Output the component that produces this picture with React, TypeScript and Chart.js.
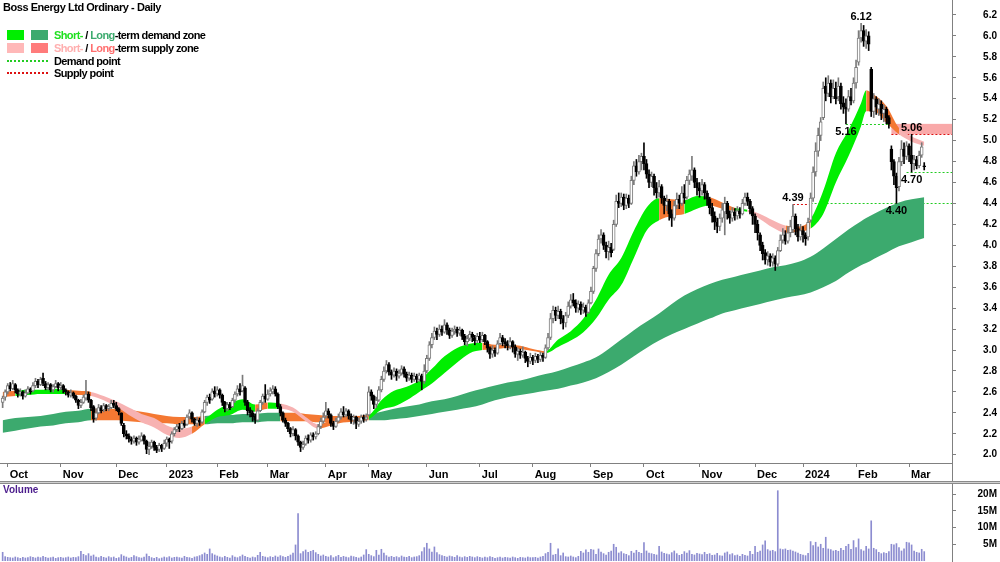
import React, { useEffect, useRef } from 'react';
import { Chart, registerables } from 'chart.js';

Chart.register(...registerables);

const FONT = '"Liberation Sans", Arial, Helvetica, sans-serif';

const chartTitle = 'Boss Energy Ltd Ordinary - Daily';

// first trading session of each month (index into the daily arrays) and its label
const monthTickIdx = [2, 23, 45, 65, 85, 105, 128, 145, 168, 189, 210, 233, 254, 276, 298, 317, 338, 359];
const monthTickLabels = ['Oct', 'Nov', 'Dec', '2023', 'Feb', 'Mar', 'Apr', 'May', 'Jun', 'Jul', 'Aug', 'Sep', 'Oct', 'Nov', 'Dec', '2024', 'Feb', 'Mar'];

const priceTicks = [2.0, 2.2, 2.4, 2.6, 2.8, 3.0, 3.2, 3.4, 3.6, 3.8, 4.0, 4.2, 4.4, 4.6, 4.8, 5.0, 5.2, 5.4, 5.6, 5.8, 6.0, 6.2];
const volumeTicks = [5, 10, 15, 20];

// daily prices (A$), 29 Sep 2022 .. 11 Mar 2024
const opens = [
  2.50, 2.55,
  2.60, 2.66, 2.63, 2.67, 2.62, 2.58, 2.60, 2.56, 2.59, 2.63, 2.61, 2.66, 2.70, 2.67, 2.73, 2.68, 2.64, 2.67, 2.62, 2.65, 2.68,
  2.64, 2.66, 2.62, 2.60, 2.57, 2.59, 2.56, 2.52, 2.47, 2.50, 2.54, 2.58, 2.52, 2.46, 2.35, 2.40, 2.45, 2.43, 2.47, 2.44, 2.45, 2.49,
  2.47, 2.44, 2.40, 2.28, 2.20, 2.18, 2.15, 2.13, 2.16, 2.12, 2.14, 2.18, 2.13, 2.05, 2.08, 2.12, 2.07, 2.05, 2.09, 2.06,
  2.11, 2.15, 2.13, 2.20, 2.24, 2.27, 2.25, 2.30, 2.29, 2.36, 2.40, 2.34, 2.30, 2.33, 2.31, 2.41, 2.50, 2.55, 2.53, 2.61,
  2.58, 2.62, 2.57, 2.50, 2.44, 2.48, 2.46, 2.52, 2.58, 2.63, 2.61, 2.64, 2.50, 2.43, 2.40, 2.37, 2.33, 2.42, 2.50, 2.56,
  2.53, 2.58, 2.60, 2.63, 2.58, 2.46, 2.40, 2.33, 2.30, 2.25, 2.20, 2.24, 2.18, 2.12, 2.07, 2.10, 2.16, 2.14, 2.19, 2.17, 2.20, 2.27, 2.32,
  2.37, 2.42, 2.38, 2.30, 2.27, 2.32, 2.36, 2.41, 2.38, 2.42, 2.37, 2.33, 2.36, 2.29, 2.32, 2.36, 2.34,
  2.38, 2.60, 2.56, 2.48, 2.52, 2.62, 2.72, 2.80, 2.86, 2.79, 2.76, 2.80, 2.75, 2.78, 2.82, 2.77, 2.73, 2.76, 2.72, 2.75, 2.72, 2.75, 2.70,
  2.80, 2.92, 3.05, 3.12, 3.18, 3.15, 3.20, 3.17, 3.24, 3.19, 3.14, 3.18, 3.20, 3.16, 3.19, 3.13, 3.08, 3.11, 3.15, 3.12, 3.09,
  3.13, 3.10, 3.14, 3.08, 3.02, 2.96, 3.00, 2.97, 3.06, 3.12, 3.08, 3.06, 3.04, 3.08, 3.03, 2.96, 2.99, 2.95, 2.98, 2.92, 2.89,
  2.93, 2.90, 2.94, 2.91, 2.95, 2.93, 3.02, 3.12, 3.30, 3.38, 3.33, 3.37, 3.30, 3.26, 3.33, 3.42, 3.48, 3.45, 3.40, 3.44, 3.38, 3.41, 3.36,
  3.45, 3.56, 3.78, 3.92, 4.06, 4.10, 4.00, 3.94, 3.98, 3.96, 4.20, 4.42, 4.40, 4.46, 4.38, 4.45, 4.40, 4.62, 4.76, 4.70, 4.80,
  4.85, 4.78, 4.68, 4.60, 4.66, 4.55, 4.50, 4.56, 4.45, 4.38, 4.42, 4.30, 4.26, 4.38, 4.44, 4.40, 4.50, 4.46, 4.62, 4.66, 4.72, 4.60,
  4.55, 4.52, 4.58, 4.50, 4.44, 4.36, 4.28, 4.22, 4.18, 4.26, 4.32, 4.40, 4.30, 4.26, 4.32, 4.28, 4.33, 4.30, 4.40, 4.46, 4.42, 4.35,
  4.28, 4.20, 4.10, 4.00, 3.93, 3.86, 3.90, 3.84, 3.88, 3.82, 3.95, 4.05, 4.10, 4.04, 4.12, 4.15, 4.28, 4.16, 4.08,
  4.14, 4.10, 4.08, 4.24, 4.45, 4.70, 4.90, 5.05, 5.22, 5.52, 5.45, 5.55, 5.42, 5.50, 5.42, 5.52, 5.36, 5.32, 5.30, 5.42, 5.38,
  5.55, 5.75, 5.98, 6.05, 5.95, 6.00, 5.68, 5.28, 5.40, 5.30, 5.35, 5.26, 5.30, 5.22, 4.92, 4.80, 4.66, 4.56, 4.80, 4.92, 4.85,
  4.95, 4.86, 4.78, 4.82, 4.76, 4.86, 4.76,
];
const highs = [
  2.56, 2.62,
  2.68, 2.69, 2.71, 2.68, 2.63, 2.63, 2.61, 2.62, 2.65, 2.64, 2.69, 2.73, 2.72, 2.74, 2.78, 2.70, 2.69, 2.68, 2.67, 2.71, 2.69,
  2.69, 2.67, 2.63, 2.61, 2.62, 2.60, 2.57, 2.53, 2.53, 2.57, 2.71, 2.60, 2.53, 2.47, 2.44, 2.48, 2.47, 2.49, 2.48, 2.48, 2.52, 2.52,
  2.50, 2.45, 2.40, 2.30, 2.23, 2.20, 2.17, 2.18, 2.17, 2.18, 2.21, 2.19, 2.14, 2.12, 2.14, 2.13, 2.09, 2.11, 2.10, 2.14,
  2.17, 2.16, 2.22, 2.26, 2.29, 2.30, 2.32, 2.33, 2.38, 2.43, 2.41, 2.35, 2.36, 2.35, 2.43, 2.52, 2.57, 2.58, 2.63, 2.65,
  2.65, 2.63, 2.58, 2.51, 2.50, 2.50, 2.54, 2.60, 2.66, 2.68, 2.76, 2.65, 2.52, 2.45, 2.42, 2.39, 2.44, 2.52, 2.58, 2.67,
  2.62, 2.64, 2.66, 2.65, 2.59, 2.48, 2.41, 2.35, 2.31, 2.26, 2.27, 2.25, 2.19, 2.13, 2.13, 2.18, 2.19, 2.21, 2.21, 2.22, 2.29, 2.35, 2.40,
  2.50, 2.44, 2.39, 2.32, 2.35, 2.39, 2.44, 2.46, 2.44, 2.43, 2.39, 2.38, 2.37, 2.35, 2.38, 2.38, 2.39,
  2.65, 2.62, 2.57, 2.55, 2.65, 2.75, 2.84, 2.90, 2.88, 2.81, 2.83, 2.82, 2.81, 2.85, 2.84, 2.79, 2.79, 2.78, 2.78, 2.77, 2.78, 2.77, 2.86,
  2.95, 3.08, 3.16, 3.22, 3.21, 3.24, 3.23, 3.29, 3.26, 3.21, 3.21, 3.23, 3.22, 3.22, 3.20, 3.15, 3.14, 3.18, 3.17, 3.14, 3.16,
  3.17, 3.17, 3.15, 3.09, 3.03, 3.04, 3.02, 3.09, 3.16, 3.14, 3.11, 3.09, 3.12, 3.09, 3.05, 3.02, 3.01, 3.03, 2.99, 2.94, 2.97,
  2.95, 2.97, 2.96, 2.98, 2.97, 3.05, 3.16, 3.35, 3.42, 3.41, 3.42, 3.39, 3.33, 3.36, 3.46, 3.53, 3.54, 3.48, 3.47, 3.46, 3.45, 3.43, 3.48,
  3.60, 3.80, 3.96, 4.10, 4.15, 4.12, 4.03, 4.04, 4.02, 4.24, 4.48, 4.50, 4.50, 4.49, 4.49, 4.48, 4.66, 4.80, 4.82, 4.86, 4.88,
  4.98, 4.82, 4.72, 4.70, 4.68, 4.60, 4.62, 4.58, 4.47, 4.48, 4.44, 4.34, 4.42, 4.50, 4.48, 4.56, 4.58, 4.66, 4.72, 4.85, 4.74, 4.64,
  4.60, 4.63, 4.60, 4.52, 4.46, 4.40, 4.32, 4.26, 4.30, 4.40, 4.46, 4.42, 4.33, 4.36, 4.35, 4.37, 4.36, 4.44, 4.50, 4.50, 4.44, 4.37,
  4.30, 4.24, 4.12, 4.03, 3.96, 3.94, 3.92, 3.92, 3.90, 3.98, 4.10, 4.16, 4.14, 4.18, 4.24, 4.39, 4.30, 4.20, 4.20,
  4.18, 4.12, 4.26, 4.50, 4.75, 4.98, 5.12, 5.22, 5.56, 5.60, 5.62, 5.58, 5.58, 5.56, 5.60, 5.55, 5.42, 5.40, 5.48, 5.50, 5.60,
  5.77, 6.05, 6.12, 6.10, 6.06, 6.04, 5.70, 5.45, 5.42, 5.40, 5.38, 5.34, 5.32, 5.24, 4.95, 4.82, 4.69, 4.84, 5.00, 4.98, 4.99,
  4.97, 5.06, 4.86, 4.85, 4.90, 4.98, 4.79,
];
const lows = [
  2.45, 2.52,
  2.58, 2.61, 2.62, 2.59, 2.55, 2.56, 2.53, 2.55, 2.58, 2.58, 2.60, 2.64, 2.64, 2.66, 2.66, 2.62, 2.62, 2.60, 2.60, 2.64, 2.61,
  2.62, 2.59, 2.57, 2.55, 2.55, 2.54, 2.50, 2.44, 2.45, 2.49, 2.52, 2.50, 2.42, 2.31, 2.33, 2.39, 2.40, 2.41, 2.42, 2.42, 2.44, 2.45,
  2.42, 2.38, 2.28, 2.17, 2.15, 2.12, 2.10, 2.11, 2.09, 2.10, 2.13, 2.10, 2.01, 2.00, 2.06, 2.04, 2.02, 2.03, 2.03, 2.05,
  2.08, 2.06, 2.11, 2.18, 2.22, 2.22, 2.24, 2.26, 2.28, 2.34, 2.31, 2.28, 2.27, 2.28, 2.30, 2.40, 2.47, 2.49, 2.52, 2.55,
  2.56, 2.54, 2.47, 2.41, 2.42, 2.43, 2.45, 2.50, 2.56, 2.57, 2.60, 2.47, 2.38, 2.36, 2.32, 2.30, 2.32, 2.41, 2.48, 2.50,
  2.52, 2.56, 2.58, 2.56, 2.44, 2.37, 2.31, 2.27, 2.22, 2.17, 2.18, 2.14, 2.09, 2.03, 2.05, 2.09, 2.11, 2.12, 2.14, 2.15, 2.19, 2.25, 2.30,
  2.35, 2.35, 2.27, 2.24, 2.26, 2.31, 2.34, 2.36, 2.36, 2.34, 2.30, 2.29, 2.25, 2.27, 2.30, 2.31, 2.32,
  2.37, 2.52, 2.44, 2.45, 2.51, 2.60, 2.70, 2.78, 2.76, 2.72, 2.74, 2.71, 2.73, 2.76, 2.74, 2.70, 2.71, 2.69, 2.70, 2.69, 2.70, 2.62, 2.68,
  2.78, 2.90, 3.02, 3.10, 3.10, 3.13, 3.14, 3.16, 3.15, 3.11, 3.12, 3.15, 3.13, 3.14, 3.10, 3.05, 3.04, 3.09, 3.08, 3.05, 3.07,
  3.07, 3.08, 3.05, 2.98, 2.92, 2.93, 2.94, 2.96, 3.05, 3.04, 3.02, 3.00, 3.01, 2.98, 2.93, 2.90, 2.92, 2.93, 2.88, 2.84, 2.87,
  2.86, 2.88, 2.88, 2.89, 2.89, 2.92, 3.00, 3.10, 3.26, 3.28, 3.30, 3.25, 3.20, 3.22, 3.31, 3.40, 3.42, 3.36, 3.36, 3.34, 3.35, 3.32, 3.35,
  3.44, 3.54, 3.75, 3.90, 4.02, 3.96, 3.88, 3.86, 3.89, 3.95, 4.18, 4.36, 4.37, 4.34, 4.35, 4.36, 4.39, 4.58, 4.66, 4.68, 4.72,
  4.72, 4.64, 4.55, 4.56, 4.48, 4.45, 4.46, 4.40, 4.30, 4.33, 4.24, 4.18, 4.24, 4.35, 4.35, 4.38, 4.40, 4.44, 4.58, 4.62, 4.55, 4.48,
  4.46, 4.48, 4.44, 4.38, 4.30, 4.22, 4.15, 4.12, 4.14, 4.22, 4.10, 4.25, 4.21, 4.23, 4.24, 4.25, 4.26, 4.29, 4.38, 4.38, 4.30, 4.20,
  4.12, 4.05, 3.95, 3.86, 3.82, 3.81, 3.80, 3.80, 3.76, 3.80, 3.94, 4.02, 4.01, 4.02, 4.08, 4.12, 4.10, 4.04, 4.05,
  4.03, 4.00, 4.05, 4.22, 4.42, 4.66, 4.85, 5.00, 5.20, 5.38, 5.42, 5.36, 5.40, 5.35, 5.38, 5.30, 5.26, 5.16, 5.28, 5.34, 5.36,
  5.50, 5.72, 5.94, 5.90, 5.88, 5.86, 5.23, 5.22, 5.25, 5.24, 5.20, 5.18, 5.16, 5.12, 4.72, 4.58, 4.40, 4.52, 4.76, 4.78, 4.82,
  4.80, 4.70, 4.72, 4.73, 4.74, 4.84, 4.72,
];
const closes = [
  2.54, 2.60,
  2.66, 2.63, 2.68, 2.62, 2.58, 2.60, 2.56, 2.59, 2.63, 2.60, 2.66, 2.70, 2.67, 2.72, 2.68, 2.64, 2.67, 2.62, 2.65, 2.68, 2.64,
  2.66, 2.62, 2.60, 2.57, 2.59, 2.56, 2.52, 2.47, 2.50, 2.55, 2.58, 2.52, 2.45, 2.34, 2.40, 2.45, 2.42, 2.47, 2.44, 2.46, 2.49, 2.47,
  2.44, 2.41, 2.30, 2.20, 2.18, 2.15, 2.13, 2.16, 2.12, 2.15, 2.18, 2.13, 2.05, 2.08, 2.12, 2.07, 2.04, 2.09, 2.06, 2.11,
  2.15, 2.12, 2.20, 2.24, 2.27, 2.25, 2.30, 2.28, 2.36, 2.40, 2.34, 2.30, 2.33, 2.31, 2.41, 2.50, 2.55, 2.52, 2.60, 2.58,
  2.62, 2.57, 2.50, 2.44, 2.48, 2.45, 2.52, 2.58, 2.63, 2.60, 2.66, 2.50, 2.42, 2.40, 2.36, 2.33, 2.42, 2.50, 2.56, 2.53,
  2.58, 2.61, 2.63, 2.58, 2.46, 2.40, 2.33, 2.30, 2.25, 2.20, 2.24, 2.18, 2.12, 2.07, 2.10, 2.16, 2.14, 2.19, 2.17, 2.20, 2.27, 2.32, 2.36,
  2.42, 2.38, 2.30, 2.27, 2.32, 2.36, 2.41, 2.38, 2.42, 2.37, 2.33, 2.36, 2.30, 2.32, 2.36, 2.34, 2.36,
  2.60, 2.56, 2.48, 2.52, 2.62, 2.72, 2.80, 2.86, 2.79, 2.76, 2.80, 2.75, 2.78, 2.82, 2.77, 2.73, 2.76, 2.72, 2.75, 2.72, 2.76, 2.70, 2.80,
  2.92, 3.05, 3.12, 3.18, 3.15, 3.20, 3.17, 3.24, 3.19, 3.14, 3.18, 3.20, 3.16, 3.19, 3.13, 3.08, 3.11, 3.15, 3.12, 3.09, 3.13,
  3.10, 3.14, 3.08, 3.02, 2.96, 3.00, 2.97, 3.06, 3.12, 3.08, 3.06, 3.04, 3.08, 3.03, 2.96, 2.99, 2.95, 2.98, 2.92, 2.89, 2.93,
  2.90, 2.94, 2.91, 2.95, 2.93, 3.02, 3.12, 3.30, 3.38, 3.33, 3.37, 3.30, 3.26, 3.33, 3.42, 3.48, 3.45, 3.40, 3.44, 3.38, 3.41, 3.36, 3.45,
  3.56, 3.78, 3.92, 4.06, 4.10, 4.00, 3.94, 3.98, 3.93, 4.20, 4.42, 4.40, 4.46, 4.38, 4.45, 4.40, 4.62, 4.76, 4.70, 4.80, 4.85,
  4.78, 4.68, 4.60, 4.66, 4.55, 4.50, 4.56, 4.45, 4.38, 4.42, 4.30, 4.26, 4.38, 4.44, 4.40, 4.50, 4.45, 4.62, 4.68, 4.72, 4.60, 4.55,
  4.52, 4.58, 4.50, 4.44, 4.36, 4.28, 4.22, 4.18, 4.26, 4.34, 4.40, 4.30, 4.26, 4.32, 4.28, 4.33, 4.30, 4.40, 4.46, 4.42, 4.35, 4.28,
  4.20, 4.12, 4.00, 3.92, 3.86, 3.90, 3.84, 3.88, 3.82, 3.95, 4.05, 4.10, 4.04, 4.12, 4.18, 4.28, 4.16, 4.08, 4.14,
  4.10, 4.06, 4.22, 4.45, 4.70, 4.90, 5.05, 5.18, 5.50, 5.45, 5.55, 5.42, 5.50, 5.40, 5.52, 5.35, 5.32, 5.30, 5.42, 5.38, 5.55,
  5.70, 5.98, 6.05, 5.95, 6.00, 5.92, 5.28, 5.40, 5.32, 5.35, 5.26, 5.30, 5.22, 5.16, 4.80, 4.66, 4.55, 4.80, 4.92, 4.85, 4.95,
  4.86, 4.78, 4.82, 4.76, 4.86, 4.94, 4.75,
];
// daily volume, millions of shares
const volumes = [
  2.6, 1.3,
  1.1, 1.0, 0.9, 1.2, 1.0, 0.8, 1.1, 0.9, 1.0, 1.3, 1.1, 0.9, 1.2, 1.0, 1.4, 1.1, 0.9, 1.0, 1.2, 0.8, 1.0,
  1.1, 0.9, 1.0, 1.2, 0.9, 1.1, 1.0, 1.3, 2.9, 2.0, 1.6, 2.2, 1.5, 1.8, 1.2, 1.0, 1.4, 1.1, 0.9, 1.3, 1.0, 1.2,
  0.8, 1.0, 1.9, 1.5, 1.2, 0.9, 1.1, 1.6, 1.3, 1.0, 0.9, 1.2, 2.1, 1.4, 1.0, 0.8, 1.1, 0.7, 0.9, 1.2,
  1.0, 1.3, 0.9, 1.1, 1.2, 1.0, 0.9, 1.4, 1.1, 1.0, 0.8, 1.2, 1.3, 1.6, 1.9, 2.4, 2.0, 3.6, 2.2, 1.8,
  1.5, 1.2, 1.0, 1.4, 1.1, 0.9, 1.6, 1.2, 1.0, 1.3, 1.8, 1.4, 1.1, 0.9, 1.2, 1.0, 1.7, 2.6, 1.4, 1.2,
  1.0, 1.3, 1.1, 1.5, 1.2, 1.6, 1.3, 1.1, 1.4, 1.8, 2.4, 4.8, 14.2, 2.2, 2.8, 3.3, 2.6, 2.9, 3.2, 2.5, 2.0, 1.5, 1.8,
  1.4, 1.2, 1.6, 1.0, 1.3, 1.7, 1.1, 1.4, 1.2, 1.0, 1.5, 1.3, 1.1, 0.9, 1.2, 1.8, 3.4,
  2.0, 1.6, 1.3, 3.2, 1.8, 3.5, 2.4, 1.6, 1.2, 1.4, 1.1, 1.3, 1.0, 1.5, 1.2, 1.1, 1.4, 1.0, 1.2, 1.3, 1.6, 2.8, 4.0,
  5.3, 3.6, 2.7, 4.2, 2.5, 1.9, 1.6, 1.4, 1.2, 1.5, 1.3, 1.1, 1.6, 1.2, 1.0, 1.3, 1.1, 1.4, 1.2, 1.0, 1.3,
  1.1, 0.9, 1.2, 1.0, 1.3, 1.1, 0.8, 1.0, 1.2, 0.9, 1.1, 1.0, 0.9, 1.2, 1.0, 0.8, 1.1, 1.0, 0.9, 1.2, 1.0,
  1.0, 1.1, 0.9, 1.2, 1.4, 2.2, 2.6, 5.3, 1.8, 2.0, 3.6, 1.6, 2.4, 1.3, 1.2, 1.5, 1.2, 1.0, 1.4, 2.9, 2.4, 3.3, 2.6,
  3.5, 3.3, 2.0, 3.6, 2.7, 2.2, 1.8, 2.6, 3.0, 5.0, 4.1, 2.4, 2.8, 2.2, 2.0, 1.6, 2.9, 2.4, 3.2, 2.6, 2.3,
  5.5, 3.0, 2.4, 2.2, 2.0, 1.8, 4.4, 2.7, 2.3, 2.1, 1.9, 2.5, 3.0, 2.2, 1.7, 2.0, 2.8, 2.4, 3.1, 2.0, 1.8, 2.3,
  2.1, 1.9, 2.6, 2.0, 2.2, 1.7, 1.8, 2.3, 1.6, 1.5, 2.4, 2.7, 1.9, 2.2, 1.6, 1.8, 1.4, 2.0, 1.7, 1.5, 2.9, 2.0,
  4.4, 2.6, 3.0, 4.8, 6.0, 3.4, 3.0, 3.2, 2.8, 21.0, 3.6, 3.4, 3.6, 3.2, 3.3, 3.0, 2.7, 2.4, 2.0,
  1.8, 1.6, 2.3, 5.8, 4.6, 5.6, 4.2, 5.0, 3.8, 7.1, 3.6, 3.4, 3.0, 3.2, 2.9, 3.8, 3.2, 4.4, 5.0, 3.5, 6.1,
  4.0, 6.6, 3.4, 3.0, 4.4, 3.6, 12.0, 3.8, 3.4, 2.6, 2.2, 2.5, 2.3, 2.8, 5.0, 4.8, 5.2, 4.0, 3.0, 3.6, 5.6,
  5.4, 4.8, 3.0, 2.6, 2.4, 3.5, 2.8,
];

// trend bands, sampled at these session indices
const bandIdx = [
  0, 5, 10, 15, 20, 25, 30, 35, 40, 45,
  50, 55, 60, 65, 70, 75, 80, 85, 90, 95,
  100, 105, 110, 115, 120, 125, 130, 135, 140, 145,
  150, 155, 160, 165, 170, 175, 180, 185, 190, 195,
  200, 205, 210, 215, 220, 225, 230, 235, 240, 245,
  250, 255, 260, 265, 270, 275, 280, 285, 290, 295,
  300, 305, 310, 315, 320, 325, 330, 335, 340, 342,
  345, 350, 355, 360, 365,
];
const longUpper = [
  2.33, 2.35, 2.36, 2.37, 2.39, 2.41, 2.42, 2.44, 2.44, 2.44,
  2.43, 2.41, 2.39, 2.37, 2.36, 2.36, 2.37, 2.38, 2.38, 2.39,
  2.39, 2.40, 2.40, 2.40, 2.39, 2.38, 2.37, 2.37, 2.37, 2.38,
  2.41, 2.44, 2.46, 2.48, 2.51, 2.53, 2.56, 2.60, 2.63, 2.66,
  2.69, 2.71, 2.74, 2.77, 2.80, 2.84, 2.88, 2.93, 3.01, 3.10,
  3.19, 3.27, 3.35, 3.44, 3.52, 3.58, 3.63, 3.67, 3.70, 3.73,
  3.76, 3.79, 3.81, 3.84, 3.89, 3.97, 4.06, 4.15, 4.23, 4.26,
  4.30, 4.36, 4.41, 4.44, 4.46,
];
const longLower = [
  2.21, 2.23, 2.25, 2.27, 2.28, 2.30, 2.31, 2.33, 2.33, 2.33,
  2.32, 2.31, 2.30, 2.30, 2.29, 2.29, 2.29, 2.30, 2.30, 2.31,
  2.31, 2.32, 2.32, 2.32, 2.32, 2.31, 2.31, 2.31, 2.32, 2.33,
  2.33, 2.34, 2.35, 2.37, 2.39, 2.41, 2.43, 2.45, 2.48, 2.52,
  2.55, 2.57, 2.59, 2.61, 2.63, 2.66, 2.69, 2.73, 2.79, 2.86,
  2.94, 3.02, 3.09, 3.15, 3.20, 3.25, 3.30, 3.35, 3.38, 3.41,
  3.44, 3.47, 3.50, 3.52, 3.55, 3.60, 3.66, 3.74, 3.81, 3.83,
  3.87, 3.93, 3.99, 4.03, 4.07,
];
// g = demand, o = transition
const longZone = [
  'g', 'g', 'g', 'g', 'g', 'g', 'g', 'o', 'o', 'o',
  'o', 'o', 'o', 'o', 'o', 'o', 'g', 'g', 'g', 'g',
  'g', 'g', 'o', 'o', 'o', 'o', 'o', 'o', 'o', 'g',
  'g', 'g', 'g', 'g', 'g', 'g', 'g', 'g', 'g', 'g',
  'g', 'g', 'g', 'g', 'g', 'g', 'g', 'g', 'g', 'g',
  'g', 'g', 'g', 'g', 'g', 'g', 'g', 'g', 'g', 'g',
  'g', 'g', 'g', 'g', 'g', 'g', 'g', 'g', 'g', 'g',
  'g', 'g', 'g', 'g', 'g',
];
const shortUpper = [
  2.60, 2.61, 2.62, 2.62, 2.63, 2.62, 2.61, 2.60, 2.56, 2.51,
  2.45, 2.39, 2.35, 2.28, 2.25, 2.27, 2.34, 2.43, 2.49, 2.53,
  2.48, 2.50, 2.49, 2.45, 2.36, 2.29, 2.33, 2.36, 2.37, 2.38,
  2.52, 2.61, 2.65, 2.71, 2.82, 2.94, 3.02, 3.06, 3.07, 3.05,
  3.05, 3.04, 3.01, 2.99, 3.10, 3.18, 3.30, 3.48, 3.72, 3.88,
  4.14, 4.36, 4.45, 4.44, 4.43, 4.47, 4.46, 4.41, 4.36, 4.34,
  4.30, 4.24, 4.19, 4.18, 4.25, 4.52, 4.88, 5.10, 5.36, 5.48,
  5.44, 5.33, 5.12, 5.04, 4.99,
];
const shortLower = [
  2.55, 2.56, 2.57, 2.58, 2.58, 2.58, 2.57, 2.56, 2.52, 2.46,
  2.38, 2.31, 2.26, 2.19, 2.16, 2.20, 2.29, 2.36, 2.38, 2.43,
  2.41, 2.44, 2.44, 2.41, 2.32, 2.25, 2.28, 2.31, 2.32, 2.34,
  2.43, 2.46, 2.52, 2.60, 2.68, 2.78, 2.88, 2.97, 3.00, 3.01,
  3.02, 3.01, 2.99, 2.97, 3.03, 3.09, 3.17, 3.30, 3.48, 3.62,
  3.88, 4.14, 4.24, 4.28, 4.30, 4.35, 4.38, 4.35, 4.33, 4.32,
  4.25, 4.17, 4.12, 4.13, 4.16, 4.30, 4.60, 4.85, 5.14, 5.28,
  5.28, 5.17, 5.06, 4.99, 4.95,
];
// g = demand, o = transition, p = supply
const shortZone = [
  'o', 'g', 'g', 'g', 'g', 'o', 'o', 'p', 'p', 'p',
  'p', 'p', 'p', 'p', 'p', 'o', 'g', 'g', 'g', 'g',
  'o', 'g', 'p', 'p', 'p', 'o', 'o', 'o', 'o', 'g',
  'g', 'g', 'g', 'g', 'g', 'g', 'g', 'g', 'o', 'o',
  'o', 'o', 'o', 'g', 'g', 'g', 'g', 'g', 'g', 'g',
  'g', 'g', 'o', 'o', 'g', 'g', 'o', 'o', 'g', 'p',
  'p', 'p', 'o', 'o', 'g', 'g', 'g', 'g', 'g', 'o',
  'o', 'o', 'p', 'p', 'p',
];

// demand / supply points (horizontal dotted lines) and the supply zone
const demandLevels = [4.40, 5.16, 4.70];
const demandFrom = [320, 334, 358];
const demandTo = [null, 352, null];
const supplyLevels = [4.39, 5.06];
const supplyFrom = [313, 352];
const supplyTo = [320, null];
const supplyZoneLow = 5.06;
const supplyZoneHigh = 5.16;
const supplyZoneFrom = 352;

// annotated prices
const notePrices = [6.12, 5.16, 5.06, 4.70, 4.40, 4.39];
const noteIdx = [340, 334, 360, 360, 354, 313];
const noteAbove = [true, false, true, false, false, true];

const COL = {
  stDemand: '#00ee00',
  ltDemand: '#3caa6e',
  stSupply: '#f7b2b2',
  ltSupply: '#ff7b7b',
  neutral: '#f47832',
  axis: '#808080',
  zone: '#f9a9a9',
  demandLine: '#22cc22',
  supplyLine: '#dd1111',
  volume: '#8c8cd0',
  upCandle: '#7a7a7a',
};
const SHORT_COL: Record<string, string> = { g: COL.stDemand, o: COL.neutral, p: COL.stSupply };
const LONG_COL: Record<string, string> = { g: COL.ltDemand, o: COL.neutral, p: COL.ltSupply };

const X_MIN = -1.05;
const X_MAX = 376;
const Y_MIN = 1.921;
const Y_MAX = 6.343;

const overlayPlugin = {
  id: 'overlay',
  beforeDatasetsDraw(chart: any) {
    const { ctx, chartArea: a, scales } = chart;
    const xs = scales.x;
    const ys = scales.y;
    ctx.save();
    ctx.beginPath();
    ctx.rect(a.left, a.top, a.right - a.left, a.bottom - a.top);
    ctx.clip();
    const zx = xs.getPixelForValue(supplyZoneFrom);
    const zt = ys.getPixelForValue(supplyZoneHigh);
    const zb = ys.getPixelForValue(supplyZoneLow);
    ctx.fillStyle = COL.zone;
    ctx.fillRect(zx, zt, a.right - zx, zb - zt);
    ctx.lineWidth = 1;
    ctx.setLineDash([2, 2]);
    const drawLevel = (price: number, from: number, to: number | null, color: string) => {
      const x0 = xs.getPixelForValue(from);
      const x1 = to == null ? a.right : xs.getPixelForValue(to);
      const yy = Math.round(ys.getPixelForValue(price)) + 0.5;
      ctx.strokeStyle = color;
      ctx.beginPath();
      ctx.moveTo(x0, yy);
      ctx.lineTo(x1, yy);
      ctx.stroke();
    };
    demandLevels.forEach((p, k) => drawLevel(p, demandFrom[k], demandTo[k], COL.demandLine));
    supplyLevels.forEach((p, k) => drawLevel(p, supplyFrom[k], supplyTo[k], COL.supplyLine));
    ctx.restore();
  },
  afterDatasetsDraw(chart: any) {
    const { ctx, scales } = chart;
    ctx.save();
    ctx.font = `bold 11px ${FONT}`;
    ctx.fillStyle = '#000';
    ctx.textAlign = 'center';
    ctx.textBaseline = 'alphabetic';
    notePrices.forEach((p, k) => {
      const px = scales.x.getPixelForValue(noteIdx[k]);
      const py = scales.y.getPixelForValue(p);
      ctx.fillText(p.toFixed(2), px, noteAbove[k] ? py - 3 : py + 11);
    });
    ctx.restore();
  },
};

export default function App() {
  const priceRef = useRef<HTMLCanvasElement>(null);
  const volRef = useRef<HTMLCanvasElement>(null);

  useEffect(() => {
    const idx = closes.map((_, i) => i);
    const up = idx.map((i) => closes[i] >= opens[i]);
    const pts = (vals: number[]) => bandIdx.map((b, k) => ({ x: b, y: vals[k] }));
    const bandBase = {
      type: 'line' as const,
      pointRadius: 0,
      borderWidth: 1,
      borderColor: 'rgba(0,0,0,0)',
      cubicInterpolationMode: 'monotone' as const,
    };
    const tickFont = { family: FONT, size: 10, weight: 'bold' as const };

    const price = new Chart(priceRef.current as HTMLCanvasElement, {
      type: 'bar',
      data: {
        datasets: [
          {
            ...bandBase,
            data: pts(longUpper),
            fill: '+1',
            backgroundColor: COL.ltDemand,
            segment: { backgroundColor: (c: any) => LONG_COL[longZone[c.p0DataIndex]] },
            order: 30,
          } as any,
          { ...bandBase, data: pts(longLower), fill: false, order: 30 } as any,
          {
            ...bandBase,
            data: pts(shortUpper),
            fill: '+1',
            backgroundColor: COL.stDemand,
            segment: { backgroundColor: (c: any) => SHORT_COL[shortZone[c.p0DataIndex]] },
            order: 20,
          } as any,
          { ...bandBase, data: pts(shortLower), fill: false, order: 20 } as any,
          {
            type: 'bar',
            data: idx.map((i) => ({ x: i, y: [lows[i], highs[i]] })),
            backgroundColor: idx.map((i) => (up[i] ? COL.upCandle : '#000000')),
            borderWidth: 0,
            barThickness: 1,
            grouped: false,
            order: 2,
          } as any,
          {
            type: 'bar',
            data: idx.map((i) => ({ x: i, y: [Math.min(opens[i], closes[i]), Math.max(opens[i], closes[i])] })),
            backgroundColor: idx.map((i) => (up[i] ? '#ffffff' : '#000000')),
            borderColor: idx.map((i) => (up[i] ? COL.upCandle : '#000000')),
            borderWidth: 1,
            borderSkipped: false,
            barThickness: 3,
            minBarLength: 1,
            grouped: false,
            order: 1,
          } as any,
        ],
      },
      options: {
        responsive: false,
        animation: false,
        devicePixelRatio: 1,
        events: [],
        layout: { padding: { left: 0, right: 3, top: 0, bottom: 0 } },
        plugins: { legend: { display: false }, tooltip: { enabled: false } },
        scales: {
          x: {
            type: 'linear',
            min: X_MIN,
            max: X_MAX,
            offset: false,
            grid: { display: true, drawOnChartArea: false, drawTicks: true, tickLength: 4, color: COL.axis, offset: false },
            border: { display: true, color: COL.axis },
            afterBuildTicks: (s: any) => {
              s.ticks = monthTickIdx.map((v) => ({ value: v }));
            },
            afterFit: (s: any) => {
              s.height = 19;
              s.paddingLeft = 0;
              s.paddingRight = 0;
            },
            ticks: {
              autoSkip: false,
              maxRotation: 0,
              minRotation: 0,
              align: 'start',
              labelOffset: 2,
              padding: 1,
              color: '#000',
              font: { family: FONT, size: 11, weight: 'bold' },
              callback: (_v: any, i: number) => monthTickLabels[i],
            },
          } as any,
          y: {
            type: 'linear',
            position: 'right',
            min: Y_MIN,
            max: Y_MAX,
            grid: { display: true, drawOnChartArea: false, drawTicks: true, tickLength: 4, color: COL.axis },
            border: { display: true, color: COL.axis },
            afterBuildTicks: (s: any) => {
              s.ticks = priceTicks.map((v) => ({ value: v }));
            },
            afterFit: (s: any) => {
              s.width = 45;
              s.paddingTop = 0;
              s.paddingBottom = 0;
            },
            ticks: {
              crossAlign: 'far',
              padding: 27,
              color: '#000',
              font: tickFont,
              callback: (v: any) => Number(v).toFixed(1),
            },
          } as any,
        },
      },
      plugins: [overlayPlugin],
    } as any);

    const vol = new Chart(volRef.current as HTMLCanvasElement, {
      type: 'bar',
      data: {
        datasets: [
          {
            data: idx.map((i) => ({ x: i, y: volumes[i] })),
            backgroundColor: COL.volume,
            borderWidth: 0,
            barThickness: 1,
          } as any,
        ],
      },
      options: {
        responsive: false,
        animation: false,
        devicePixelRatio: 1,
        events: [],
        layout: { padding: { left: 0, right: 3, top: 12, bottom: 1 } },
        plugins: { legend: { display: false }, tooltip: { enabled: false } },
        scales: {
          x: { type: 'linear', min: X_MIN, max: X_MAX, offset: false, display: false } as any,
          y: {
            type: 'linear',
            position: 'right',
            min: 0,
            max: 23,
            grid: { display: true, drawOnChartArea: false, drawTicks: true, tickLength: 4, color: COL.axis },
            border: { display: true, color: COL.axis },
            afterBuildTicks: (s: any) => {
              s.ticks = volumeTicks.map((v) => ({ value: v }));
            },
            afterFit: (s: any) => {
              s.width = 45;
              s.paddingTop = 0;
              s.paddingBottom = 0;
            },
            ticks: {
              crossAlign: 'far',
              padding: 21,
              color: '#000',
              font: tickFont,
              callback: (v: any) => `${v}M`,
            },
          } as any,
        },
      },
    } as any);

    return () => {
      price.destroy();
      vol.destroy();
    };
  }, []);

  const txt: React.CSSProperties = {
    position: 'absolute',
    fontFamily: FONT,
    fontWeight: 'bold',
    fontSize: 11,
    lineHeight: '12px',
    letterSpacing: '-0.6px',
    color: '#000',
    whiteSpace: 'nowrap',
  };
  const sq = (left: number, top: number, bg: string): React.CSSProperties => ({
    position: 'absolute',
    left,
    top,
    width: 17,
    height: 10,
    background: bg,
  });

  return (
    <div style={{ position: 'fixed', left: 0, top: 0, width: 1000, height: 562, background: '#fff', overflow: 'hidden' }}>
      <canvas ref={priceRef} width={1000} height={482} style={{ position: 'absolute', left: 0, top: 0, display: 'block' }} />
      <canvas ref={volRef} width={1000} height={90} style={{ position: 'absolute', left: 0, top: 472, display: 'block' }} />
      <div style={{ position: 'absolute', left: 952, top: 463, width: 1, height: 22, background: COL.axis }} />
      <div
        style={{
          position: 'absolute',
          left: 0,
          top: 481,
          width: 1000,
          height: 3,
          boxSizing: 'border-box',
          borderTop: '1px solid #8a8a8a',
          borderBottom: '1px solid #8a8a8a',
          background: '#d0d0d0',
        }}
      />
      <div style={{ ...txt, left: 3, top: 1, letterSpacing: '-0.45px' }}>{chartTitle}</div>

      <div style={sq(7, 30, COL.stDemand)} />
      <div style={sq(31, 30, COL.ltDemand)} />
      <div style={{ ...txt, left: 54, top: 29 }}>
        <span style={{ color: '#1fe01f' }}>Short-</span> / <span style={{ color: COL.ltDemand }}>Long</span>-term demand zone
      </div>

      <div style={sq(7, 43, '#ffb8b8')} />
      <div style={sq(31, 43, COL.ltSupply)} />
      <div style={{ ...txt, left: 54, top: 42 }}>
        <span style={{ color: '#ffafaf' }}>Short-</span> / <span style={{ color: '#ff6f6f' }}>Long</span>-term supply zone
      </div>

      <div style={{ position: 'absolute', left: 7, top: 60, width: 41, height: 0, borderTop: `2px dotted ${COL.demandLine}` }} />
      <div style={{ ...txt, left: 54, top: 55 }}>Demand point</div>

      <div style={{ position: 'absolute', left: 7, top: 72, width: 41, height: 0, borderTop: `2px dotted ${COL.supplyLine}` }} />
      <div style={{ ...txt, left: 54, top: 67 }}>Supply point</div>

      <div style={{ ...txt, left: 3, top: 484, fontSize: 10, letterSpacing: '0px', color: '#4b1c8c' }}>Volume</div>
    </div>
  );
}
